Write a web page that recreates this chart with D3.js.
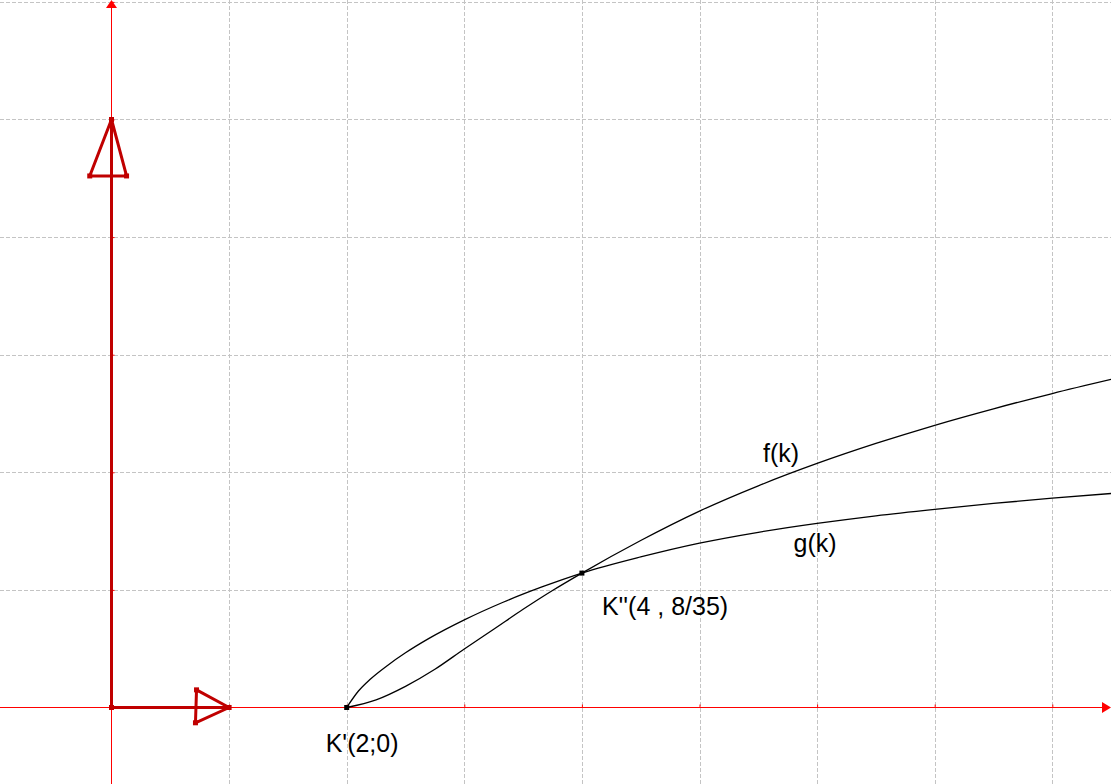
<!DOCTYPE html>
<html>
<head>
<meta charset="utf-8">
<script src="https://cdn.jsdelivr.net/npm/d3@7"></script>
<style>
html,body{margin:0;padding:0;background:#fff;}
svg{display:block;}
text{font-family:"Liberation Sans",Arial,sans-serif;font-size:25px;fill:#000;}
</style>
</head>
<body>
<svg id="chart" width="1111" height="784"></svg>
<script>
// ---- data ----
const gridK = [1, 2, 3, 4, 5, 6, 7, 8];
const gridV = [0.2, 0.4, 0.6, 0.8, 1.0, 1.2];

const fK = [2, 2.25, 2.5, 2.75, 3, 3.25, 3.5, 3.75, 4, 4.5, 5, 5.5, 6, 6.5, 7, 7.5, 8, 8.5];
const fV = [0, 0.013, 0.036, 0.065, 0.0995, 0.133, 0.167, 0.199, 0.2286, 0.284, 0.334, 0.377, 0.415, 0.449, 0.480, 0.508, 0.534, 0.558];

const gK = [2, 2.1, 2.2, 2.35, 2.5, 2.7, 3, 3.33, 3.66, 4, 4.5, 5, 5.5, 6, 6.5, 7, 7.5, 8, 8.5];
const gV = [0, 0.028, 0.048, 0.072, 0.093, 0.1175, 0.149, 0.179, 0.205, 0.2286, 0.256, 0.2795, 0.298, 0.313, 0.326, 0.337, 0.347, 0.356, 0.364];

const points = [
  {name: "K'(2;0)", k: 2, v: 0},
  {name: "K''(4 , 8/35)", k: 4, v: 8 / 35}
];
const curveLabels = ["f(k)", "g(k)"];

// unit vectors with arrow heads (data coords)
const vecI = {tip: [1, 0], base: [[0.723, 0.030], [0.714, -0.026]]};
const vecJ = {tip: [0, 1], base: [[-0.185, 0.904], [0.128, 0.904]]};

// ---- scales ----
const W = 1111, H = 784;
const x = d3.scaleLinear().domain([0, 8]).range([111.5, 1052.3]);
const y = d3.scaleLinear().domain([0, 1.2]).range([707.5, 1.9]);

const svg = d3.select("#chart");

// grid
const grid = svg.append("g").attr("stroke", "#c4c4c4").attr("stroke-width", 1)
  .attr("stroke-dasharray", "4,2").attr("shape-rendering", "crispEdges");
grid.selectAll("line.v").data(gridK).join("line").attr("class", "v")
  .attr("x1", d => Math.round(x(d)) + 0.5).attr("x2", d => Math.round(x(d)) + 0.5)
  .attr("y1", 0).attr("y2", H);
grid.selectAll("line.h").data(gridV).join("line").attr("class", "h")
  .attr("y1", d => Math.round(y(d)) + 0.5).attr("y2", d => Math.round(y(d)) + 0.5)
  .attr("x1", 0).attr("x2", W);

// axes
const axisColor = "#ff0000";
const x0 = x(0), y0 = y(0);
svg.append("line").attr("x1", 0).attr("x2", W - 4).attr("y1", y0).attr("y2", y0)
  .attr("stroke", axisColor).attr("shape-rendering", "crispEdges");
svg.append("line").attr("x1", x0).attr("x2", x0).attr("y1", 4).attr("y2", H)
  .attr("stroke", axisColor).attr("shape-rendering", "crispEdges");
svg.append("path").attr("d", `M${W},${y0}L${W - 9},${y0 - 5.5}L${W - 9},${y0 + 5.5}Z`).attr("fill", axisColor);
svg.append("path").attr("d", `M${x0},0L${x0 - 5.5},8L${x0 + 5.5},8Z`).attr("fill", axisColor);

const xAxis = svg.append("g").attr("transform", `translate(0,${y0})`)
  .call(d3.axisTop(x).tickValues(gridK).tickSize(3).tickFormat(""));
xAxis.select(".domain").remove();
xAxis.selectAll("line").attr("stroke", axisColor);
const yAxis = svg.append("g").attr("transform", `translate(${x0},0)`)
  .call(d3.axisRight(y).tickValues(gridV).tickSize(3).tickFormat(""));
yAxis.select(".domain").remove();
yAxis.selectAll("line").attr("stroke", axisColor);

// curves
const line = d3.line().x(d => x(d[0])).y(d => y(d[1])).curve(d3.curveMonotoneX);
const fData = fK.map((k, i) => [k, fV[i]]);
const gData = gK.map((k, i) => [k, gV[i]]);
svg.append("path").datum(fData).attr("d", line).attr("fill", "none").attr("stroke", "#000").attr("stroke-width", 1.3);
svg.append("path").datum(gData).attr("d", line).attr("fill", "none").attr("stroke", "#000").attr("stroke-width", 1.3);

// vectors
const vecColor = "#c00000";
function drawVector(v) {
  const g = svg.append("g").attr("stroke", vecColor).attr("stroke-width", 3).attr("fill", "none")
    .attr("stroke-linejoin", "round");
  g.append("line").attr("x1", x(0)).attr("y1", y(0)).attr("x2", x(v.tip[0])).attr("y2", y(v.tip[1]));
  const tri = [v.tip, v.base[0], v.base[1]];
  g.append("path").attr("d", "M" + tri.map(p => x(p[0]) + "," + y(p[1])).join("L") + "Z");
  const pts = [[0, 0], v.tip, v.base[0], v.base[1]];
  svg.append("g").selectAll("rect").data(pts).join("rect")
    .attr("x", d => x(d[0]) - 2.5).attr("y", d => y(d[1]) - 2.5)
    .attr("width", 5).attr("height", 5).attr("fill", vecColor);
}
drawVector(vecI);
drawVector(vecJ);

// points
svg.append("g").selectAll("rect").data(points).join("rect")
  .attr("x", d => x(d.k) - 2.5).attr("y", d => y(d.v) - 2.5)
  .attr("width", 5).attr("height", 5).attr("fill", "#000");

// labels
const ptOffsets = [[-21, 44], [20, 42]];
svg.append("g").selectAll("text").data(points).join("text")
  .attr("x", (d, i) => x(d.k) + ptOffsets[i][0]).attr("y", (d, i) => y(d.v) + ptOffsets[i][1])
  .text(d => d.name);

// curve labels (placed near their curves)
const lblPos = [[5.54, 0.4175], [5.80, 0.264]];
svg.append("g").selectAll("text.c").data(curveLabels).join("text").attr("class", "c")
  .attr("x", (d, i) => x(lblPos[i][0])).attr("y", (d, i) => y(lblPos[i][1]))
  .text(d => d);
</script>
</body>
</html>
